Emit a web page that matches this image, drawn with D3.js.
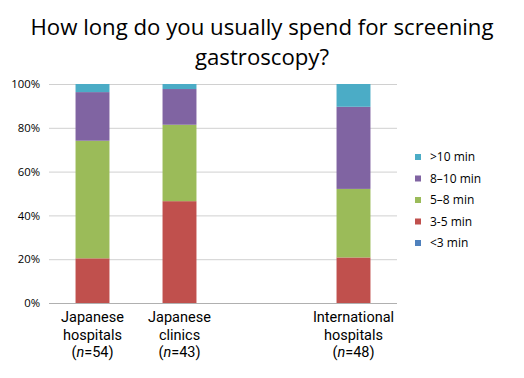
<!DOCTYPE html>
<html><head><meta charset="utf-8">
<script src="https://cdn.jsdelivr.net/npm/d3@7"></script>
<style>body{margin:0;background:#fff}svg{display:block}</style>
</head><body>
<svg id="c" width="524" height="378"></svg>
<script>
const categories = ["Japanese hospitals", "Japanese clinics", "", "International hospitals"];
const catLabels = [["Japanese","hospitals","54"],["Japanese","clinics","43"],null,["International","hospitals","48"]];
const seriesNames = ["<3 min","3-5 min","5–8 min","8–10 min",">10 min"];
const lt3 = [0, 0, null, 0];
const m3to5 = [20.4, 46.5, null, 20.8];
const m5to8 = [53.7, 34.9, null, 31.3];
const m8to10 = [22.2, 16.3, null, 37.5];
const gt10 = [3.7, 2.3, null, 10.4];
const colors = ["#4F81BD","#C0504D","#9BBB59","#8064A2","#4BACC6"];
const yTicks = [0,20,40,60,80,100];

const svg = d3.select("#c");
const m = {l:49, r:127, t:84, b:75};
const W = 524, H = 378;
const x = d3.scaleBand().domain(categories.map((c,i)=>i)).range([m.l, W-m.r]).paddingInner(0.61).paddingOuter(0.305);
const y = d3.scaleLinear().domain([0,100]).range([H-m.b, m.t]);

svg.append("text").attr("x",262).attr("y",35).attr("text-anchor","middle")
  .attr("font-family","Open Sans, sans-serif").attr("font-size",22.2).attr("fill","#000")
  .text("How long do you usually spend for screening");
svg.append("text").attr("x",262).attr("y",65).attr("text-anchor","middle")
  .attr("font-family","Open Sans, sans-serif").attr("font-size",22.2).attr("fill","#000")
  .text("gastroscopy?");

// grid
svg.append("g").selectAll("line").data(yTicks).join("line")
  .attr("x1",m.l).attr("x2",W-m.r).attr("y1",d=>y(d)+0.5).attr("y2",d=>y(d)+0.5)
  .attr("stroke",d=>d===0?"#b0b0b0":"#d0d0d0").attr("stroke-width",1);

const yAxis = d3.axisLeft(y).tickValues(yTicks).tickFormat(d=>d+"%").tickSize(0).tickPadding(9);
const ga = svg.append("g").attr("transform",`translate(${m.l},0)`).call(yAxis);
ga.select(".domain").remove();
ga.selectAll("text").attr("font-family","Open Sans, sans-serif").attr("font-size",11.3).attr("fill","#000");

const series = [lt3, m3to5, m5to8, m8to10, gt10];
const rows = categories.map((c,i)=>{const o={i}; seriesNames.forEach((s,k)=>o[s]=series[k][i]||0); return o;});
const stacked = d3.stack().keys(seriesNames)(rows);
svg.append("g").selectAll("g").data(stacked).join("g").attr("fill",(d,k)=>colors[k])
  .selectAll("rect").data(d=>d.filter(p=>p.data.i!==2)).join("rect")
  .attr("x",d=>x(d.data.i)).attr("width",x.bandwidth())
  .attr("y",d=>y(d[1])).attr("height",d=>Math.max(0,y(d[0])-y(d[1])));

// category labels
const gl = svg.append("g").attr("font-family","Roboto, sans-serif").attr("font-size",14.5).attr("fill","#000").attr("text-anchor","middle");
catLabels.forEach((lab,i)=>{
  if(!lab) return;
  const cx = x(i)+x.bandwidth()/2;
  gl.append("text").attr("x",cx).attr("y",322).text(lab[0]);
  gl.append("text").attr("x",cx).attr("y",339.5).text(lab[1]);
  const t = gl.append("text").attr("x",cx).attr("y",357);
  t.append("tspan").text("(");
  t.append("tspan").attr("font-style","italic").text("n");
  t.append("tspan").text("="+lab[2]+")");
});

// legend
const legOrder = seriesNames.map((s,k)=>k).reverse();
const lg = svg.append("g");
legOrder.forEach((k,j)=>{
  const yy = 157 + j*21.5;
  lg.append("rect").attr("x",415).attr("y",yy-3).attr("width",6).attr("height",6).attr("fill",colors[k]);
  lg.append("text").attr("x",430).attr("y",yy+4).attr("font-family","Open Sans, sans-serif").attr("font-size",12).attr("fill","#000").text(seriesNames[k]);
});
</script>
</body></html>
